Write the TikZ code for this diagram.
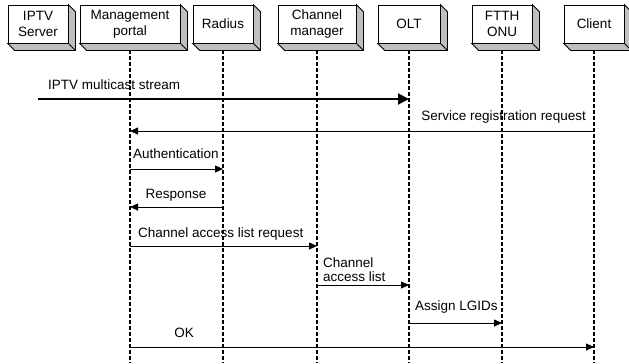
\documentclass[tikz,border=0pt]{standalone}
\usepackage{fontspec}
\setmainfont{Liberation Sans}
\usetikzlibrary{arrows.meta}

\begin{document}
\begin{tikzpicture}[
        x=1bp, y=-1bp,
        every node/.style={font=\fontsize{13.5bp}{16bp}\selectfont},
        entity/.style={draw, fill=white, line width=0.8bp, minimum width=60bp, minimum height=38bp, inner sep=0pt, align=center},
        face/.style={draw, fill=gray!50, line width=0.8bp},
        lifeline/.style={line width=1.9bp, dash pattern=on 4bp off 2bp},
        msg/.style={line width=0.8bp, -{Triangle[length=8bp,width=7bp]}},
        stream/.style={line width=2bp, -{Triangle[length=11bp,width=11bp]}},
        lbl/.style={anchor=base west, inner sep=0pt}
    ]
        \useasboundingbox (0,0) rectangle (629,363);

        % Entities
        \node[entity] (iptv) at (38,24) {IPTV\\Server};
        \node[entity, minimum width=100bp] (portal) at (130,24) {Management\\portal};
        \node[entity] (radius) at (223,24) {Radius};
        \node[entity, minimum width=78bp] (chanmgr) at (317,24) {Channel\\manager};
        \node[entity, minimum width=62bp] (olt) at (409,24) {OLT};
        \node[entity] (onu) at (502,24) {FTTH\\ONU};
        \node[entity] (client) at (594,24) {Client};

        % 3D sides of the boxes
        \foreach \n in {iptv,portal,radius,chanmgr,olt,onu,client} {
            \filldraw[face] (\n.north east) -- ++(7,7) -- ([shift={(7,7)}]\n.south east)
                -- ([shift={(7,7)}]\n.south west) -- (\n.south west) -- (\n.south east) -- cycle;
            \draw[line width=0.8bp] (\n.south east) -- ++(7,7);
        }

        % Lifelines
        \coordinate (bottom) at (0,363);
        \foreach \n in {portal,radius,chanmgr,olt,onu,client}
            \draw[lifeline] ([yshift=-7bp]\n.south) -- (\n |- bottom);

        % Message rows
        \coordinate (m1) at (0,99);
        \coordinate (m2) at (0,131);
        \coordinate (m3) at (0,169);
        \coordinate (m4) at (0,207);
        \coordinate (m5) at (0,246);
        \coordinate (m6) at (0,285);
        \coordinate (m7) at (0,323);
        \coordinate (m8) at (0,347);

        % Messages
        \draw[stream] (iptv |- m1) -- (olt |- m1);
        \draw[msg] (client |- m2) -- (portal |- m2);
        \draw[msg] (portal |- m3) -- (radius |- m3);
        \draw[msg] (radius |- m4) -- (portal |- m4);
        \draw[msg] (portal |- m5) -- (chanmgr |- m5);
        \draw[msg] (chanmgr |- m6) -- (olt |- m6);
        \draw[msg] (olt |- m7) -- (onu |- m7);
        \draw[msg] (portal |- m8) -- (client |- m8);

        % Labels
        \node[lbl] (t1) at (48,89) {IPTV multicast stream};
        \node[lbl, anchor=base east] (t2) at (586,120) {Service registration request};
        \node[lbl] (t3) at (133,158) {Authentication};
        \node[lbl, anchor=base] (t4) at (176,198) {Response};
        \node[lbl] (t5) at (138,237) {Channel access list request};
        \node[lbl, align=left, font=\fontsize{13.5bp}{14bp}\selectfont] (t6) at (323,281) {Channel\\access list};
        \node[lbl] (t7) at (415,310) {Assign LGIDs};
        \node[lbl, anchor=base] (t8) at (184,337) {OK};

    \end{tikzpicture}
\end{document}
